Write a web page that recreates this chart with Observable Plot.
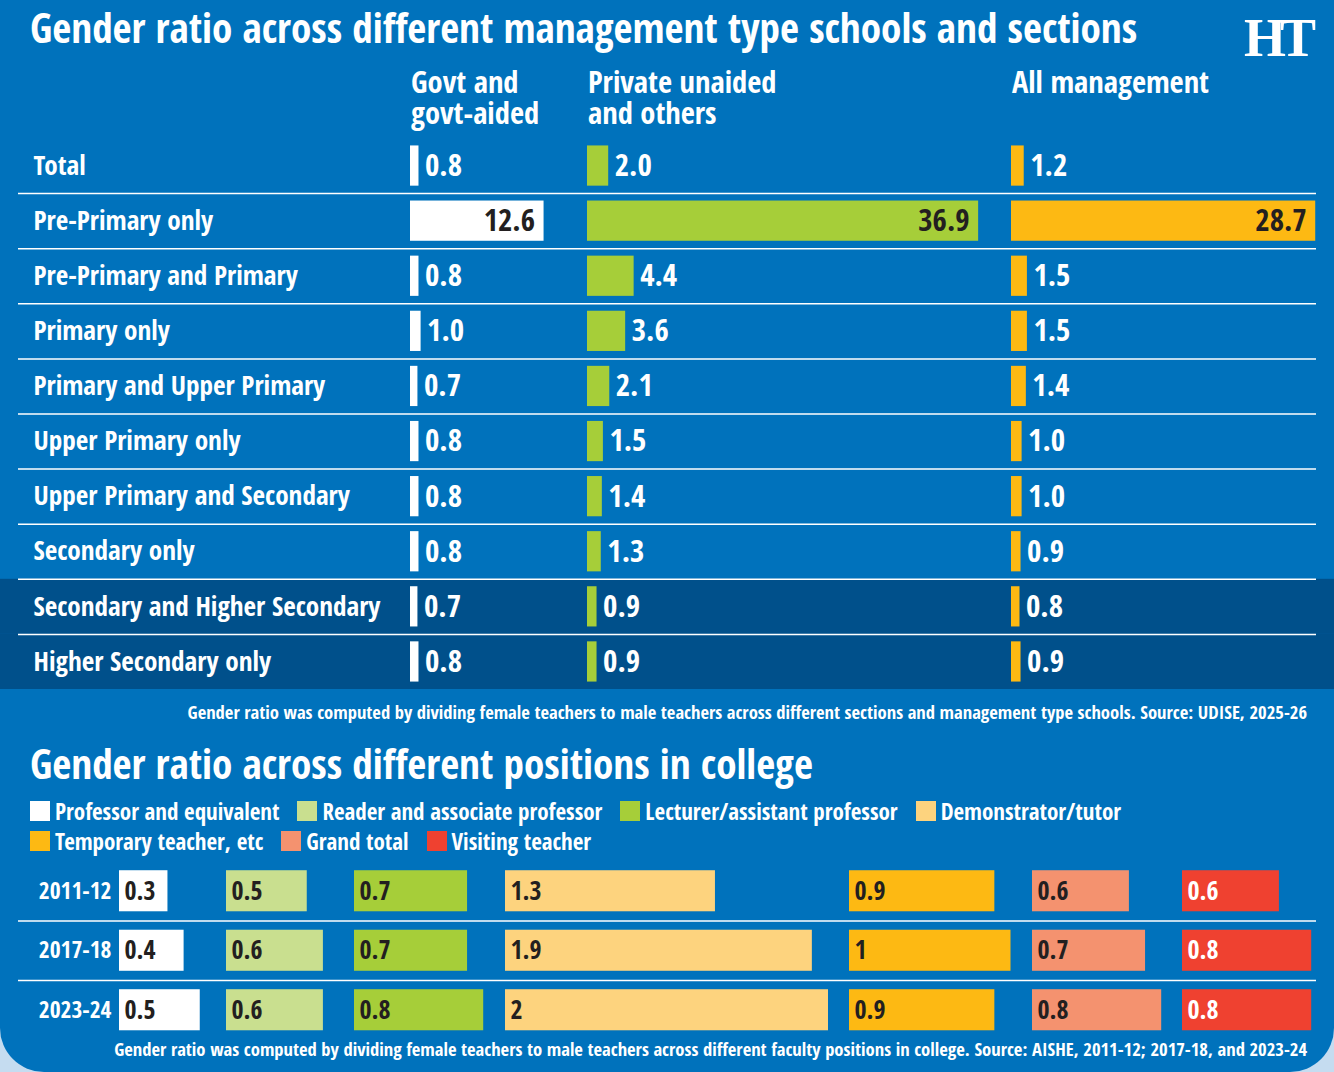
<!DOCTYPE html>
<html>
<head>
<meta charset="utf-8">
<script src="https://cdn.jsdelivr.net/npm/d3@7"></script>
<script src="https://cdn.jsdelivr.net/npm/@observablehq/plot@0.6"></script>
<style>
  body { margin: 0; background: #c5dcf0; }
  #card {
    position: relative; width: 1334px; height: 1072px; overflow: hidden;
    background: #0072bc; border-radius: 0 0 44px 44px;
    font-family: "Open Sans Condensed", "Open Sans", "Roboto Condensed", sans-serif;
    font-stretch: condensed; font-weight: bold; color: #fff;
  }
  .abs { position: absolute; }
  .title { font-size: 41.2px; line-height: 1; white-space: nowrap; }
  .colhead { font-size: 30.5px; line-height: 31px; height: 31px; white-space: nowrap; }
  .note { font-size: 18.6px; line-height: 1; white-space: nowrap; right: 27px; }
  .logo { font-family: "Liberation Serif", "DejaVu Serif", serif; font-stretch: normal; font-size: 54px; letter-spacing: -6px; line-height: 1; }
  .poslegend-swatch { height: 30px; margin-right: 18px; }
  .poslegend-swatch > svg { margin-right: 5px; }
</style>
</head>
<body>
<div id="card">
  <div class="abs title" style="left:30px; top:6.5px;">Gender ratio across different management type schools and sections</div>
  <div class="abs logo" style="left:1244px; top:11px;">HT</div>
  <div class="abs title" style="left:30px; top:742.5px;">Gender ratio across different positions in college</div>
  <div class="abs note" style="top:702.5px;">Gender ratio was computed by dividing female teachers to male teachers across different sections and management type schools. Source: UDISE, 2025-26</div>
  <div class="abs note" style="top:1039.5px;">Gender ratio was computed by dividing female teachers to male teachers across different faculty positions in college. Source: AISHE, 2011-12; 2017-18, and 2023-24</div>
</div>
<script>
// ---- School sections: female-to-male teacher ratio by management type ----
const sections = [
  "Total", "Pre-Primary only", "Pre-Primary and Primary", "Primary only",
  "Primary and Upper Primary", "Upper Primary only", "Upper Primary and Secondary",
  "Secondary only", "Secondary and Higher Secondary", "Higher Secondary only"
];
const highlightedSections = ["Secondary and Higher Secondary", "Higher Secondary only"];
const managementTypes = [["Govt and", "govt-aided"], ["Private unaided", "and others"], ["All management"]];
const govtAided      = [0.8, 12.6, 0.8, 1.0, 0.7, 0.8, 0.8, 0.8, 0.7, 0.8];
const privateUnaided = [2.0, 36.9, 4.4, 3.6, 2.1, 1.5, 1.4, 1.3, 0.9, 0.9];
const allManagement  = [1.2, 28.7, 1.5, 1.5, 1.4, 1.0, 1.0, 0.9, 0.8, 0.9];

// ---- College faculty positions: female-to-male ratio by year ----
const years = ["2011-12", "2017-18", "2023-24"];
const positions = [
  "Professor and equivalent", "Reader and associate professor", "Lecturer/assistant professor",
  "Demonstrator/tutor", "Temporary teacher, etc", "Grand total", "Visiting teacher"
];
const professor    = [0.3, 0.4, 0.5];
const reader       = [0.5, 0.6, 0.6];
const lecturer     = [0.7, 0.7, 0.8];
const demonstrator = [1.3, 1.9, 2];
const temporary    = [0.9, 1, 0.9];
const grandTotal   = [0.6, 0.7, 0.8];
const visiting     = [0.6, 0.8, 0.8];

// ---- Styling and layout ----
const FONT = '"Open Sans Condensed", "Open Sans", "Roboto Condensed", sans-serif';
const INK = "#231f20";
const DARK_ROW = "#00508b";
const managementColors = ["#ffffff", "#a6ce39", "#fdb913"];
const positionColors = ["#ffffff", "#c9df8f", "#a6ce39", "#fdd37e", "#fdb913", "#f4926f", "#ef4130"];
const positionLabelColors = [INK, INK, INK, INK, INK, INK, "#ffffff"];

const card = document.getElementById("card");
const svgStyle = {fontFamily: FONT, fontStretch: "condensed", fontWeight: "bold", background: "transparent", color: "white", overflow: "visible"};

function place(node, left, top) {
  node.style.position = "absolute";
  node.style.left = left + "px";
  node.style.top = top + "px";
  card.appendChild(node);
  return node;
}

// Top panel geometry
const TOP_Y = 138, TOP_H = 551, TOP_K = 10.6;               // px per ratio unit
const topColumns = [410, 587, 1011, 1334];                  // left edges of each management column
const topStep = TOP_H / sections.length;

// Row backgrounds, separators and section names
place(Plot.plot({
  width: 1334, height: TOP_H, margin: 0, style: svgStyle,
  y: {type: "band", domain: sections, axis: null, padding: 0, round: false},
  marks: [
    Plot.cell(highlightedSections, {y: d => d, fill: DARK_ROW}),
    Plot.ruleY(sections.slice(1), {y: d => d, dy: -topStep / 2, stroke: "white", strokeWidth: 1.5, insetLeft: 18, insetRight: 18}),
    Plot.text(sections, {y: d => d, text: d => d, frameAnchor: "left", textAnchor: "start", dx: 33, fill: "white", fontSize: 27.2})
  ]
}), 0, TOP_Y);

// One bar column per management type
[govtAided, privateUnaided, allManagement].forEach((values, c) => {
  const width = topColumns[c + 1] - topColumns[c];
  const data = sections.map((section, i) => ({section, value: values[i]}));
  const inside = d => d.value >= 10;
  place(Plot.plot({
    width, height: TOP_H, margin: 0, style: svgStyle,
    x: {domain: [0, width / TOP_K], axis: null},
    y: {domain: sections, axis: null, paddingInner: 0.27, paddingOuter: 0.135, round: false},
    marks: [
      Plot.barX(data, {y: "section", x: "value", fill: managementColors[c]}),
      Plot.text(data.filter(d => !inside(d)), {y: "section", x: "value", text: d => d.value.toFixed(1), textAnchor: "start", dx: 6, fill: "white", fontSize: 31}),
      Plot.text(data.filter(inside), {y: "section", x: "value", text: d => d.value.toFixed(1), textAnchor: "end", dx: -9, fill: INK, fontSize: 31})
    ]
  }), topColumns[c], TOP_Y);

  // Column header, one line per div
  managementTypes[c].forEach((line, j) => {
    const head = document.createElement("div");
    head.className = "colhead";
    head.textContent = line;
    place(head, topColumns[c] + 1, 65.7 + j * 31);
  });
});

// Legend for college positions
const legend = Plot.legend({
  color: {type: "ordinal", domain: positions, range: positionColors},
  className: "poslegend", swatchSize: 20,
  style: {fontFamily: FONT, fontStretch: "condensed", fontWeight: "bold", fontSize: "23px", color: "white", width: "1200px", minHeight: "0px", margin: "0px"}
});
place(legend, 30, 796);

// Bottom panel geometry
const BOT_Y = 861, BOT_H = 178.5, BOT_K = 161.5;
const botColumns = [119, 226, 354, 505, 849, 1032, 1182, 1334];
const botStep = BOT_H / years.length;

place(Plot.plot({
  width: 1334, height: BOT_H, margin: 0, style: svgStyle,
  y: {type: "band", domain: years, axis: null, padding: 0, round: false},
  marks: [
    Plot.ruleY(years.slice(1), {y: d => d, dy: -botStep / 2, stroke: "white", strokeWidth: 1.5, insetLeft: 18, insetRight: 18}),
    Plot.text(years, {y: d => d, text: d => d, frameAnchor: "left", textAnchor: "end", dx: 111, fill: "white", fontSize: 23.5})
  ]
}), 0, BOT_Y);

[professor, reader, lecturer, demonstrator, temporary, grandTotal, visiting].forEach((values, c) => {
  const width = botColumns[c + 1] - botColumns[c];
  const data = years.map((year, i) => ({year, value: values[i]}));
  place(Plot.plot({
    width, height: BOT_H, margin: 0, style: svgStyle,
    x: {domain: [0, width / BOT_K], axis: null},
    y: {domain: years, axis: null, paddingInner: 0.31, paddingOuter: 0.155, round: false},
    marks: [
      Plot.barX(data, {y: "year", x: "value", fill: positionColors[c]}),
      Plot.text(data, {y: "year", x: 0, text: d => String(d.value), textAnchor: "start", dx: 5, fill: positionLabelColors[c], fontSize: 26})
    ]
  }), botColumns[c], BOT_Y);
});
</script>
</body>
</html>
